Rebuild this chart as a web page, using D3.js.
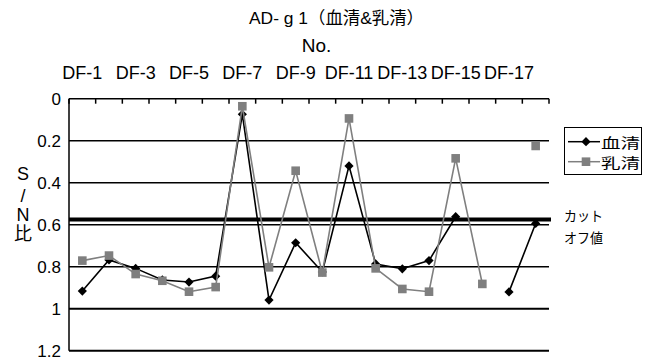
<!DOCTYPE html>
<html><head><meta charset="utf-8">
<script src="https://cdn.jsdelivr.net/npm/d3@7"></script>
<style>
body{margin:0;background:#fff;}
text{font-family:"Liberation Sans",Arial,"Noto Sans CJK JP",sans-serif;fill:#000;}
.jp{font-family:"Noto Sans CJK JP",sans-serif;}
</style></head>
<body><svg id="c" width="652" height="359"></svg>
<script>
const categories = ["DF-1","DF-2","DF-3","DF-4","DF-5","DF-6","DF-7","DF-8","DF-9","DF-10","DF-11","DF-12","DF-13","DF-14","DF-15","DF-16","DF-17","DF-18"];
const serum = [0.916,0.768,0.808,0.863,0.873,0.845,0.074,0.959,0.686,0.825,0.32,0.787,0.81,0.771,0.562,null,0.92,0.594];
const whey  = [0.771,0.747,0.835,0.867,0.919,0.897,0.036,0.803,0.343,0.828,0.094,0.808,0.906,0.919,0.284,0.882,null,0.225];
const yTicks = [0,0.2,0.4,0.6,0.8,1.0,1.2];
const cutoff = 0.575;
const seriesNames = ["血清","乳清"];
const title = "AD- g 1（血清&乳清）";
const xTitle = "No.";

const svg = d3.select("#c");
const L=69,R=549,T=98.7,B=350.7;
const x = d3.scaleBand().domain(categories).range([L,R]);
const y = d3.scaleLinear().domain([0,1.2]).range([T,B]);

// gridlines
svg.append("g").selectAll("line").data(yTicks.filter(d=>d>0)).join("line")
  .attr("x1",L).attr("x2",R).attr("y1",d=>y(d)).attr("y2",d=>y(d))
  .attr("stroke","#000").attr("stroke-width",d=>d>=1?2:1.5);

// cutoff line
svg.append("line").attr("x1",L).attr("x2",R+2).attr("y1",y(cutoff)).attr("y2",y(cutoff))
  .attr("stroke","#000").attr("stroke-width",4);

// left axis line
svg.append("line").attr("x1",L).attr("x2",L).attr("y1",T).attr("y2",B).attr("stroke","#000").attr("stroke-width",1.5);
// top axis line
svg.append("line").attr("x1",L).attr("x2",R).attr("y1",T).attr("y2",T).attr("stroke","#000").attr("stroke-width",1.5);
// top ticks at band boundaries
const bounds = categories.map(c=>x(c)).concat([x(categories[categories.length-1])+x.bandwidth()]);
svg.append("g").selectAll("line").data(bounds).join("line")
  .attr("x1",d=>d).attr("x2",d=>d).attr("y1",T).attr("y2",T+5).attr("stroke","#000").attr("stroke-width",1.5);

// x labels
const xa = svg.append("g").attr("transform",`translate(0,${T})`)
  .call(d3.axisTop(x).tickValues(categories.filter((c,i)=>i%2===0)).tickSize(0).tickPadding(0));
xa.select(".domain").remove();
xa.selectAll("text").attr("y",-20).attr("dy",0).style("font-size","18px").attr("font-family",null);

// y labels
const ya = svg.append("g").attr("transform",`translate(${L},0)`)
  .call(d3.axisLeft(y).tickValues(yTicks).tickSize(0).tickPadding(8).tickFormat(d=>String(+d.toFixed(1))));
ya.select(".domain").remove();
ya.selectAll("text").style("font-size","17px").attr("font-family",null);

// lines
const line = d3.line().defined(d=>d.v!=null).x(d=>x(d.c)+x.bandwidth()/2).y(d=>y(d.v));
const sData = categories.map((c,i)=>({c,v:serum[i]}));
const wData = categories.map((c,i)=>({c,v:whey[i]}));
svg.append("path").datum(sData).attr("d",line).attr("fill","none").attr("stroke","#000").attr("stroke-width",1.6);
const diamond = "M0,-4.6L4.6,0L0,4.6L-4.6,0Z";
svg.append("g").selectAll("path").data(sData.filter(d=>d.v!=null)).join("path")
  .attr("d",diamond).attr("transform",d=>`translate(${x(d.c)+x.bandwidth()/2},${y(d.v)})`).attr("fill","#000");
svg.append("path").datum(wData).attr("d",line).attr("fill","none").attr("stroke","#7f7f7f").attr("stroke-width",1.6);
svg.append("g").selectAll("rect").data(wData.filter(d=>d.v!=null)).join("rect")
  .attr("x",d=>x(d.c)+x.bandwidth()/2-4.3).attr("y",d=>y(d.v)-4.3).attr("width",8.6).attr("height",8.6).attr("fill","#7f7f7f");

// titles
svg.append("text").attr("x",249).attr("y",24).style("font-size","17px")
  .attr("textLength",175).attr("lengthAdjust","spacingAndGlyphs").text(title);
svg.append("text").attr("x",316.5).attr("y",52).attr("text-anchor","middle").style("font-size","19px").text(xTitle);

// y axis title stacked
const yt = ["S","/","N","比"], ytY=[180,202,221,240];
svg.append("g").selectAll("text").data(yt).join("text")
  .attr("x",23).attr("y",(d,i)=>ytY[i]).attr("text-anchor","middle").style("font-size","18px").text(d=>d);

// legend
const lg = svg.append("g");
lg.append("rect").attr("x",564.5).attr("y",127.5).attr("width",77).attr("height",47).attr("fill","#fff").attr("stroke","#000").attr("stroke-width",1);
[[0,"#000"],[1,"#7f7f7f"]].forEach(([i,col])=>{
  const ly = [141.7,161.7][i];
  lg.append("line").attr("x1",568).attr("x2",600).attr("y1",ly).attr("y2",ly).attr("stroke",col).attr("stroke-width",1.5);
  if(i===0) lg.append("path").attr("d",diamond).attr("transform",`translate(586,${ly})`).attr("fill","#000");
  else lg.append("rect").attr("x",586-4.3).attr("y",ly-4.3).attr("width",8.6).attr("height",8.6).attr("fill",col);
  lg.append("text").attr("class","jp").attr("x",601).attr("y",ly+6).style("font-size","13.5px")
    .attr("textLength",39).attr("lengthAdjust","spacingAndGlyphs").text(seriesNames[i]);
});

// cutoff label
svg.append("text").attr("class","jp").attr("x",564).attr("y",221).style("font-size","14px")
  .attr("textLength",39).attr("lengthAdjust","spacingAndGlyphs").text("カット");
svg.append("text").attr("class","jp").attr("x",564).attr("y",242.5).style("font-size","14px")
  .attr("textLength",39).attr("lengthAdjust","spacingAndGlyphs").text("オフ値");
</script></body></html>
